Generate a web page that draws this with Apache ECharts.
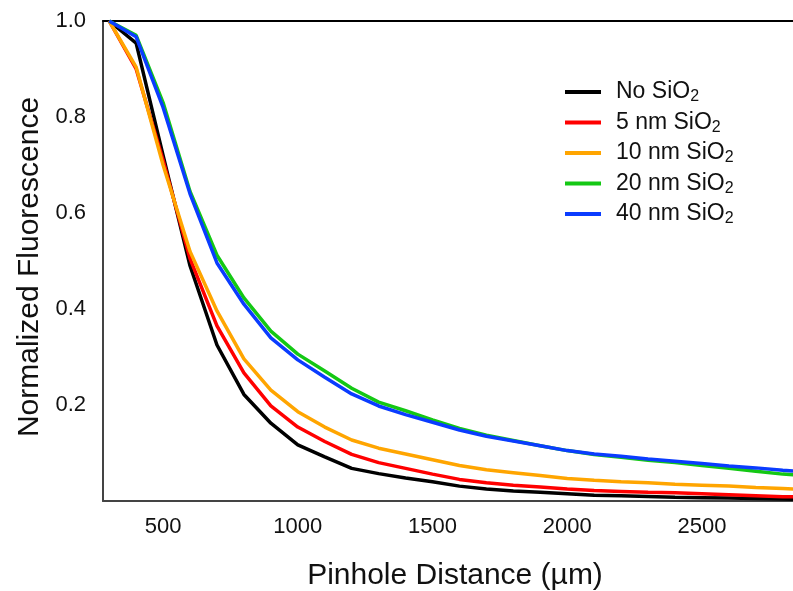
<!DOCTYPE html>
<html>
<head>
<meta charset="utf-8">
<script src="https://cdn.jsdelivr.net/npm/echarts@6/dist/echarts.min.js"></script>
<style>html,body{margin:0;padding:0;background:#fff}#c{width:793px;height:591px}</style>
</head>
<body>
<div id="c"></div>
<script>
var distances = [300,400,500,600,700,800,900,1000,1100,1200,1300,1400,1500,1600,1700,1800,1900,2000,2100,2200,2300,2400,2500,2600,2700,2800,2900];
var seriesNames = ['No SiO2','5 nm SiO2','10 nm SiO2','20 nm SiO2','40 nm SiO2'];
var noSiO2 =  [1.0,0.954,0.72,0.49,0.325,0.222,0.162,0.117,0.092,0.068,0.057,0.048,0.040,0.031,0.025,0.021,0.018,0.015,0.012,0.011,0.0095,0.008,0.007,0.006,0.005,0.004,0.0035];
var nm5SiO2 = [1.0,0.90,0.71,0.505,0.365,0.267,0.198,0.154,0.124,0.097,0.080,0.068,0.056,0.045,0.038,0.033,0.029,0.025,0.022,0.020,0.018,0.017,0.015,0.013,0.011,0.009,0.008];
var nm10SiO2 =[1.0,0.904,0.70,0.52,0.396,0.296,0.231,0.186,0.154,0.127,0.110,0.098,0.086,0.074,0.065,0.059,0.053,0.047,0.043,0.040,0.038,0.035,0.033,0.031,0.028,0.026,0.024];
var nm20SiO2 =[1.0,0.970,0.83,0.645,0.512,0.423,0.354,0.306,0.271,0.235,0.206,0.188,0.169,0.151,0.137,0.126,0.115,0.105,0.097,0.091,0.085,0.080,0.074,0.068,0.062,0.056,0.052];
var nm40SiO2 =[1.0,0.967,0.82,0.64,0.496,0.41,0.34,0.294,0.258,0.223,0.198,0.180,0.164,0.148,0.135,0.125,0.115,0.105,0.098,0.093,0.0875,0.083,0.078,0.073,0.069,0.064,0.060];
var xTicks = [500,1000,1500,2000,2500];
var yTicks = [0.2,0.4,0.6,0.8,1.0];
var colors = ['#000000','#ff0000','#ffa500','#14c814','#0a3cff'];
var allValues = [noSiO2,nm5SiO2,nm10SiO2,nm20SiO2,nm40SiO2];

var chart = echarts.init(document.getElementById('c'));
var font = 'Liberation Sans, Arial, sans-serif';
function legendFmt(name){
  return '{a|' + name.slice(0, name.length-1) + '}{s|' + name.slice(-1) + '}';
}
chart.setOption({
  animation:false,
  grid:{left:103,right:0,top:21,bottom:90,containLabel:false,outerBoundsMode:'none'},
  legend:{
    data:seriesNames,
    orient:'vertical',
    left:565, top:79, padding:0,
    icon:'rect', itemWidth:36, itemHeight:4, itemGap:4.5,
    formatter:legendFmt,
    textStyle:{
      fontFamily:font, color:'#111', padding:[0,0,0,10],
      rich:{
        a:{fontFamily:font,fontSize:23,color:'#111',lineHeight:22},
        s:{fontFamily:font,fontSize:16,color:'#111',padding:[10,0,0,0],lineHeight:22}
      }
    }
  },
  xAxis:[{
    type:'value', min:277, max:2838, position:'bottom',
    name:'Pinhole Distance (µm)', nameLocation:'middle', nameGap:60,
    nameTextStyle:{fontFamily:font,fontSize:30,color:'#111',padding:[0,0,0,14]},
    axisLine:{show:true,onZero:false,lineStyle:{color:'#444',width:2}},
    axisTick:{show:false},
    splitLine:{show:false},
    axisLabel:{customValues:xTicks,fontFamily:font,fontSize:22,color:'#111',margin:15,
      formatter:function(v){return String(v);}}
  },{
    type:'value', min:277, max:2838, position:'top',
    axisLine:{show:true,onZero:false,lineStyle:{color:'#000',width:2}},
    axisTick:{show:false}, axisLabel:{show:false}, splitLine:{show:false}
  }],
  yAxis:{
    type:'value', min:0, max:1,
    name:'Normalized Fluorescence', nameLocation:'middle', nameGap:56,
    nameTextStyle:{fontFamily:font,fontSize:30,color:'#111',padding:[0,12,0,0]},
    axisLine:{show:true,lineStyle:{color:'#444',width:2}},
    axisTick:{show:false},
    splitLine:{show:false},
    axisLabel:{customValues:yTicks,fontFamily:font,fontSize:22,color:'#111',margin:17,
      formatter:function(v){return v.toFixed(1);}}
  },
  series:seriesNames.map(function(n,i){
    return {
      name:n, type:'line', xAxisIndex:0, clip:true,
      data:distances.map(function(d,j){return [d, allValues[i][j]];}),
      symbol:'none', smooth:false,
      lineStyle:{color:colors[i],width:3.5},
      itemStyle:{color:colors[i]}
    };
  })
});
</script>
</body>
</html>
